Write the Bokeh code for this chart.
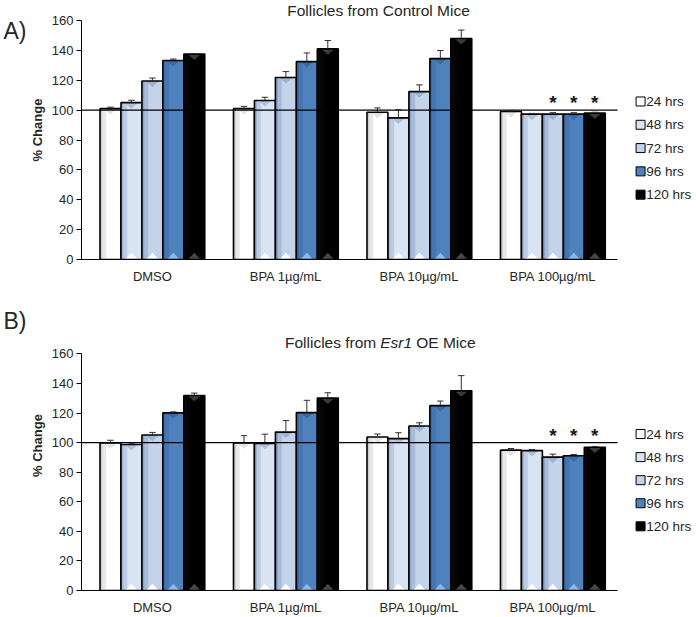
from bokeh.plotting import figure
from bokeh.models import FixedTicker, Range1d, LinearAxis
from bokeh.layouts import column
from bokeh.embed import file_html
from bokeh.resources import INLINE
from bokeh.core.properties import value

# ---------------- data ----------------
categories = ["DMSO", "BPA 1µg/mL", "BPA 10µg/mL", "BPA 100µg/mL"]
series = ["24 hrs", "48 hrs", "72 hrs", "96 hrs", "120 hrs"]
y_ticks = [0, 20, 40, 60, 80, 100, 120, 140, 160]
reference_level = 100

# Panel A: Follicles from Control Mice
a_24 = [101.0, 101.0, 98.6, 99.1]
a_48 = [105.0, 106.4, 94.8, 97.3]
a_72 = [119.5, 121.8, 112.4, 97.3]
a_96 = [133.2, 132.5, 134.5, 97.3]
a_120 = [137.5, 141.0, 148.0, 98.0]
a_24_err = [1.0, 1.5, 2.9, 0.3]
a_48_err = [1.6, 2.2, 5.4, 0.5]
a_72_err = [2.0, 4.0, 4.5, 1.0]
a_96_err = [1.0, 5.8, 5.4, 1.0]
a_120_err = [0.3, 5.6, 5.6, 0.6]
a_sig = [("BPA 100µg/mL", "72 hrs"), ("BPA 100µg/mL", "96 hrs"), ("BPA 100µg/mL", "120 hrs")]

# Panel B: Follicles from Esr1 OE Mice
b_24 = [99.8, 99.8, 103.8, 94.9]
b_48 = [98.7, 99.5, 102.7, 94.6]
b_72 = [105.1, 107.1, 111.2, 90.2]
b_96 = [120.1, 120.3, 125.0, 91.1]
b_120 = [131.9, 130.1, 135.0, 96.9]
b_24_err = [1.8, 4.9, 2.0, 1.1]
b_48_err = [1.0, 6.2, 4.0, 0.7]
b_72_err = [1.8, 7.8, 2.2, 2.0]
b_96_err = [0.7, 8.3, 3.1, 0.9]
b_120_err = [1.6, 3.6, 10.3, 0.5]
b_sig = [("BPA 100µg/mL", "72 hrs"), ("BPA 100µg/mL", "96 hrs"), ("BPA 100µg/mL", "120 hrs")]

# ---------------- style ----------------
FONT = "Liberation Sans"
fills = ["#ffffff", "#d9e4f2", "#c3d4ea", "#4f81bd", "#000000"]
strip_dark = ["#cfcfcf", "#9fb3cf", "#8aa3c6", "#3f6ca6", "#0a0a0a"]
strip_mid = ["#e8e8e8", "#bccbe0", "#a8bcd9", "#4676b2", "#050505"]
tri_cols = ["#ffffff", "#ffffff", "#ffffff", "#8fb8ea", "#474747"]
top_tri_cols = ["#e2e2e2", "#aebfd8", "#9db2d0", "#3b68a3", "#3a3a3a"]
BW = 0.157
X0, X1 = -0.031, 4.576
AXIS_END = 3.985
TXT = "#262626"


def build(vals, errs, sig, title_parts, tag, height, y_max, border_bottom, standoff,
          title_y, tag_y):
    p = figure(width=696, height=height, x_range=Range1d(X0, X1), y_range=Range1d(0, y_max),
               output_backend="svg", toolbar_location=None, title=None,
               min_border_left=80, min_border_right=0, min_border_top=0,
               min_border_bottom=border_bottom)
    p.outline_line_color = None
    p.grid.visible = False
    p.background_fill_color = "white"
    p.border_fill_color = "white"

    # y axis
    ya = p.yaxis[0]
    ya.ticker = FixedTicker(ticks=y_ticks)
    ya.bounds = (0, 160)
    ya.minor_tick_line_color = None
    ya.major_tick_in = 0
    ya.major_tick_out = 5
    ya.axis_line_color = "black"
    ya.major_tick_line_color = "black"
    ya.major_label_text_font = FONT
    ya.major_label_text_font_size = "13px"
    ya.major_label_text_color = TXT
    ya.major_label_standoff = 3
    ya.axis_label = "% Change"
    ya.axis_label_text_font = FONT
    ya.axis_label_text_font_size = "13px"
    ya.axis_label_text_font_style = "bold"
    ya.axis_label_text_color = TXT
    ya.axis_label_standoff = 4

    # panel tag ("A)" / "B)") as the only label of an outer, line-less axis
    tag_axis = LinearAxis(ticker=FixedTicker(ticks=[tag_y]),
                          major_label_overrides={tag_y: tag},
                          axis_line_color=None, major_tick_line_color=None,
                          minor_tick_line_color=None, major_tick_in=0, major_tick_out=0,
                          major_label_standoff=0,
                          major_label_text_font=FONT, major_label_text_font_size="23px",
                          major_label_text_color=TXT)
    p.add_layout(tag_axis, "left")

    # x axis
    xa = p.xaxis[0]
    centers = [i + 0.5 for i in range(len(categories))]
    xa.ticker = FixedTicker(ticks=centers)
    xa.major_label_overrides = {c: lab for c, lab in zip(centers, categories)}
    xa.bounds = (X0, AXIS_END)
    xa.axis_line_color = "black"
    xa.major_tick_line_color = None
    xa.minor_tick_line_color = None
    xa.major_tick_in = 0
    xa.major_tick_out = 0
    xa.major_label_text_font = FONT
    xa.major_label_text_font_size = "13px"
    xa.major_label_text_color = TXT
    xa.major_label_standoff = standoff

    # bars
    for j, (v, e) in enumerate(zip(vals, errs)):
        xs = [c + (j - 2) * BW for c in centers]
        p.vbar(x=xs, top=v, width=BW, bottom=0, fill_color=fills[j], line_color=None)
        # faux bevel gradient on the left side
        p.quad(left=[x - BW / 2 for x in xs], right=[x - BW / 2 + BW * 0.13 for x in xs],
               bottom=0, top=v, fill_color=strip_dark[j], line_color=None)
        p.quad(left=[x - BW / 2 + BW * 0.13 for x in xs], right=[x - BW / 2 + BW * 0.3 for x in xs],
               bottom=0, top=v, fill_color=strip_mid[j], line_color=None)
        # bottom and top bevel triangles
        p.patches(xs=[[x - BW * 0.3, x, x + BW * 0.3] for x in xs],
                  ys=[[0, 4.5, 0] for _ in xs], fill_color=tri_cols[j], line_color=None)
        p.patches(xs=[[x - BW * 0.32, x, x + BW * 0.32] for x in xs],
                  ys=[[t, t - 4.0, t] for t in v], fill_color=top_tri_cols[j],
                  line_color=None)
        p.vbar(x=xs, top=v, width=BW, bottom=0, fill_color=None, line_color="black",
               line_width=1.6)
        # error bars (upper)
        tops = [a + b for a, b in zip(v, e)]
        p.segment(x0=xs, y0=v, x1=xs, y1=tops, line_color="#303030", line_width=1)
        p.segment(x0=[x - 0.024 for x in xs], y0=tops, x1=[x + 0.024 for x in xs], y1=tops,
                  line_color="#303030", line_width=1)

    # reference line
    p.segment(x0=[X0], y0=[reference_level], x1=[AXIS_END], y1=[reference_level],
              line_color="black", line_width=1.3)

    # significance stars
    sx, sy = [], []
    for cat, ser in sig:
        i = categories.index(cat)
        j = series.index(ser)
        grp_top = max(max(vals[k][i] + errs[k][i] for k in range(len(series))), reference_level)
        sx.append(centers[i] + (j - 2) * BW)
        sy.append(grp_top + 5)
    p.text(x=sx, y=sy, text=["*"] * len(sx), text_font=value(FONT), text_font_size="19px",
           text_font_style="bold", text_align="center", text_baseline="alphabetic",
           text_color="#1a1a1a")

    # legend
    leg_x = 4.157
    leg_y = [105.8 - 15.6 * j for j in range(len(series))]
    p.scatter(x=[leg_x] * len(series), y=leg_y, marker="square", size=9, fill_color=fills,
              line_color="black", line_width=1)
    p.text(x=[leg_x + 0.043] * len(series), y=leg_y, text=series, text_font=value(FONT),
           text_font_size="13.5px", text_align="left", text_baseline="middle", text_color=TXT)

    # title
    if len(title_parts) == 1:
        p.text(x=[2.194], y=[title_y], text=title_parts, text_font=value(FONT),
               text_font_size="15.5px", text_align="center", text_baseline="middle",
               text_color=TXT)
    else:
        anchor = 1.487 + 0.69
        p.text(x=[anchor], y=[title_y], text=[title_parts[0]], text_font=value(FONT),
               text_font_size="15.5px", text_align="right", text_baseline="middle",
               text_color=TXT)
        p.text(x=[anchor], y=[title_y], text=[title_parts[1]], text_font=value(FONT),
               text_font_size="15.5px", text_font_style="italic", text_align="left",
               text_baseline="middle", text_color=TXT, x_offset=4)
        p.text(x=[anchor], y=[title_y], text=[title_parts[2]], text_font=value(FONT),
               text_font_size="15.5px", text_align="left", text_baseline="middle",
               text_color=TXT, x_offset=40)
    return p


pa = build([a_24, a_48, a_72, a_96, a_120],
           [a_24_err, a_48_err, a_72_err, a_96_err, a_120_err],
           a_sig, ["Follicles from Control Mice"], "A)", 300, 173.4, 41, 9, 166.7, 153.3)
pb = build([b_24, b_48, b_72, b_96, b_120],
           [b_24_err, b_48_err, b_72_err, b_96_err, b_120_err],
           b_sig, ["Follicles from", "Esr1", "OE Mice"], "B)", 317, 196.1, 24, 9, 168.0, 182.0)

layout = column(pa, pb, spacing=0)
open("out.html", "w").write(file_html(layout, INLINE))
